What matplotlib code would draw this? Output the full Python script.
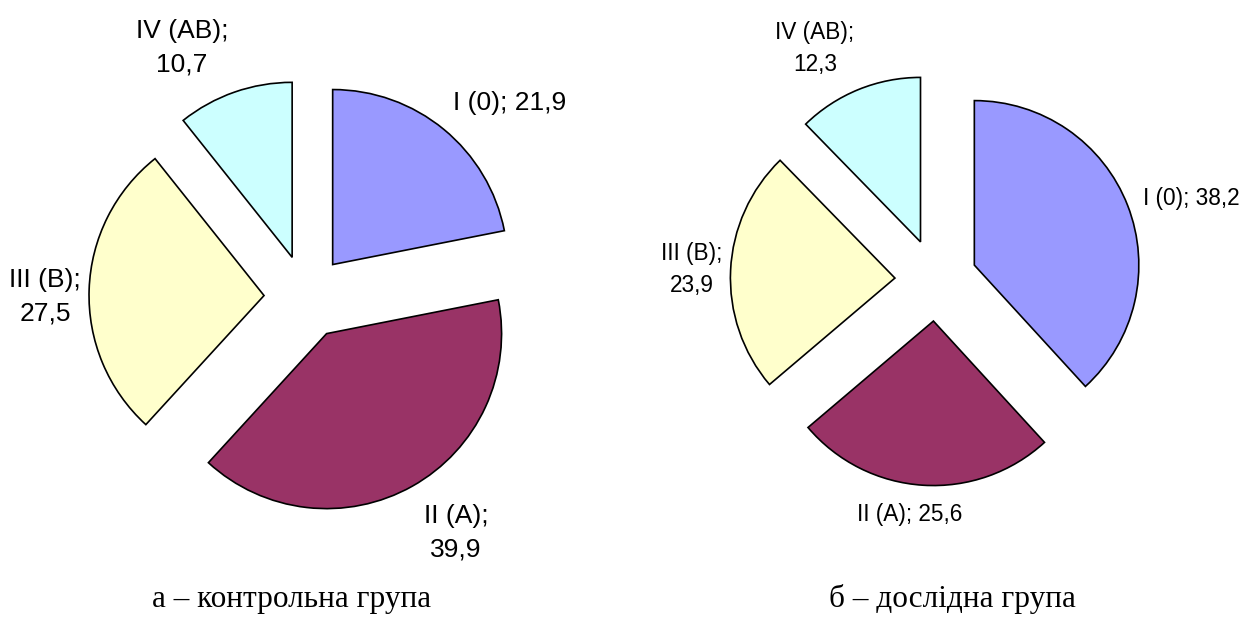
import matplotlib.pyplot as plt

W, H = 1245, 617

groups = ["I (0)", "II (A)", "III (B)", "IV (AB)"]
control = [21.9, 39.9, 27.5, 10.7]
experimental = [38.2, 25.6, 23.9, 12.3]
colors = ["#9999FF", "#993366", "#FFFFCC", "#CCFFFF"]
captions = ["а – контрольна група", "б – дослідна група"]

# layout in pixels (from top-left corner of the image)
panels = [
    dict(values=control, caption=captions[0], center=(306, 297), radius=175,
         explode=0.24, fontsize=19, linespacing=1.5, caption_x=292,
         wrap=[False, True, True, True],
         label_xy=[(510, 103), (456, 533), (45, 297), (182, 48)]),
    dict(values=experimental, caption=captions[1], center=(936, 280), radius=164.5,
         explode=0.25, fontsize=16.3, linespacing=1.5, caption_x=952,
         wrap=[False, False, True, True],
         label_xy=[(1191, 199), (910, 515), (692, 269), (815, 48)]),
]


def fmt(name, value, wrap):
    sep = "\n" if wrap else " "
    return f"{name};{sep}{value:.1f}".replace(".", ",")


fig = plt.figure(figsize=(W / 100, H / 100), dpi=100)

for p in panels:
    cx, cy = p["center"]
    r = p["radius"]
    half = 240
    ax = fig.add_axes([(cx - half) / W, 1 - (cy + half) / H, 2 * half / W, 2 * half / H])
    ax.pie(
        p["values"],
        colors=colors,
        explode=[p["explode"]] * len(p["values"]),
        startangle=90,
        counterclock=False,
        radius=1.0,
        wedgeprops=dict(edgecolor="black", linewidth=1.2),
    )
    ax.set_xlim(-half / r, half / r)
    ax.set_ylim(-half / r, half / r)
    ax.set_aspect("equal")
    ax.axis("off")

    for name, v, wrap, (tx, ty) in zip(groups, p["values"], p["wrap"], p["label_xy"]):
        fig.text(tx / W, 1 - ty / H, fmt(name, v, wrap),
                 ha="center", va="center", multialignment="center",
                 fontsize=p["fontsize"], family="Liberation Sans",
                 linespacing=p["linespacing"], color="black")

    fig.text(p["caption_x"] / W, 1 - 607 / H, p["caption"],
             ha="center", va="baseline", fontsize=22.5,
             family="Liberation Serif", color="black")

fig.savefig("out.png", dpi=100)
